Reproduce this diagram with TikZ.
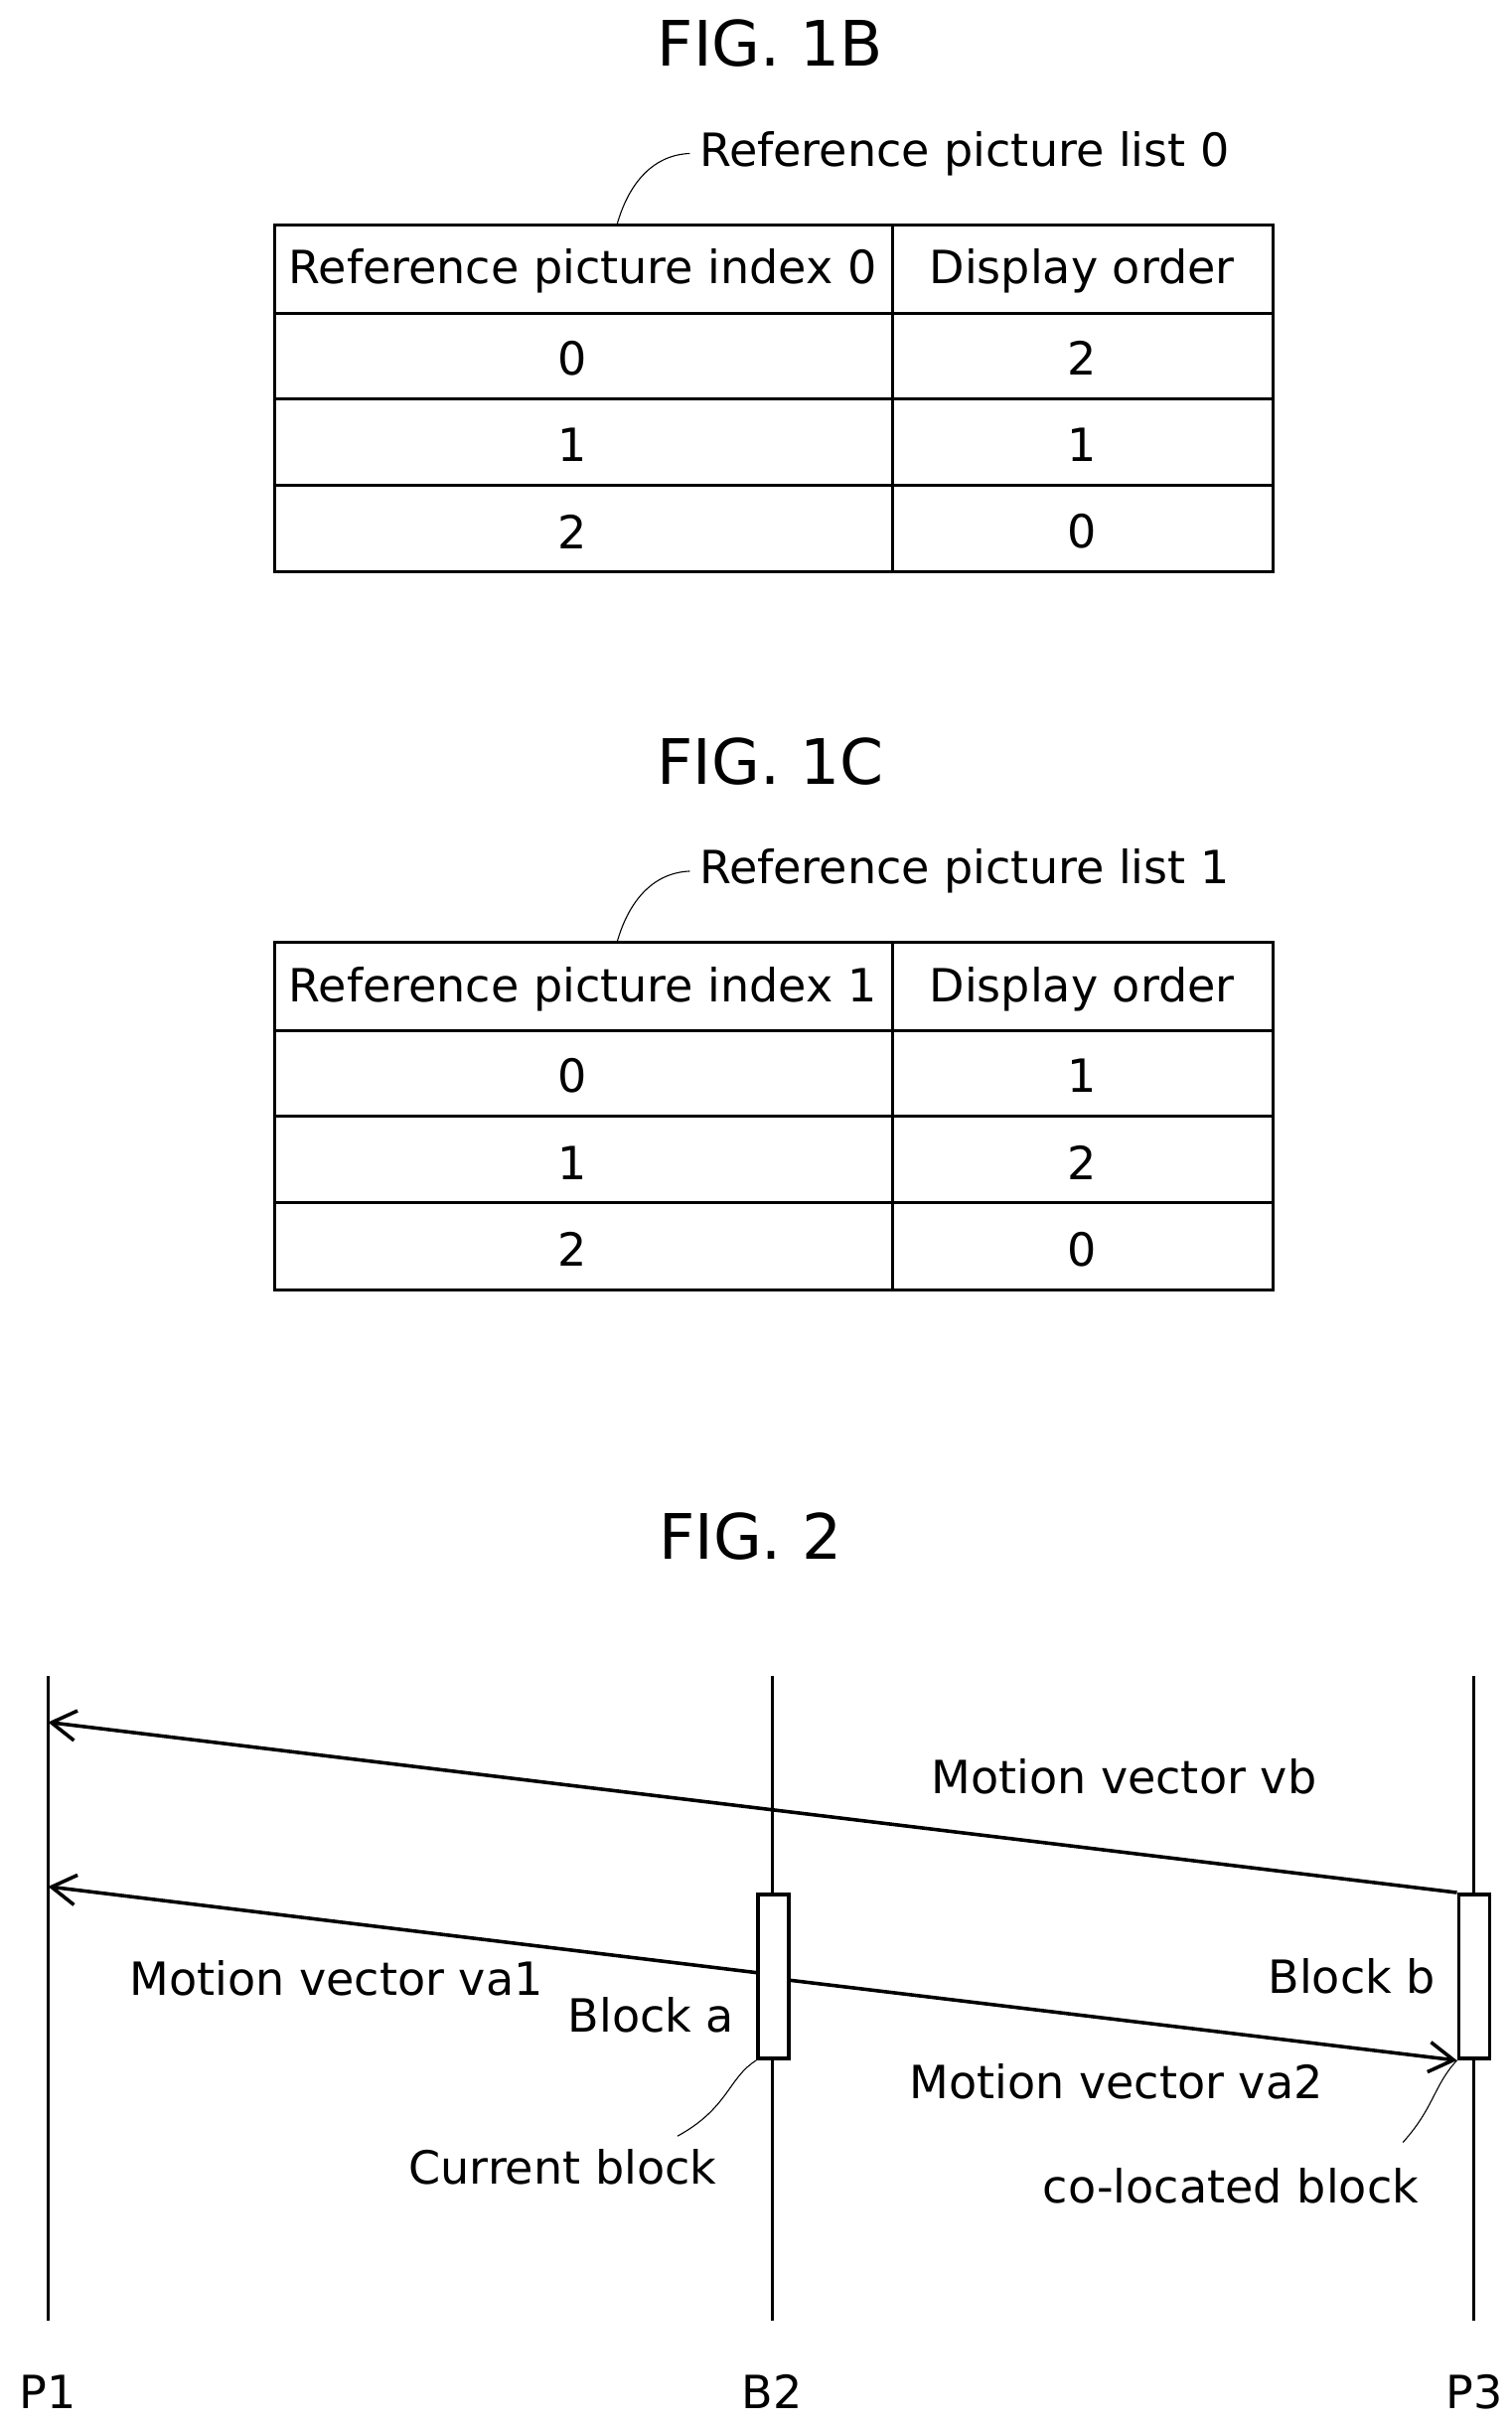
\documentclass[tikz,border=0pt]{standalone}
\usepackage{fontspec}
\setmainfont{DejaVu Sans}
\tikzset{>=latex}
\usetikzlibrary{positioning,arrows.meta}

\begin{document}
\begin{tikzpicture}[x=0.02cm, y=-0.02cm, font=\fontsize{16.8}{19}\selectfont,
    title/.style={font=\fontsize{23}{27}\selectfont},
    grid/.style={line width=1.1pt},
    vec/.style={->, line width=1.3pt, >={Straight Barb[length=9pt,width=11pt]}},
    blk/.style={draw, line width=1.3pt, minimum width=0.4cm, minimum height=2.12cm, inner sep=0pt, fill=white}]
  \useasboundingbox (0,0) rectangle (975,1565);
  % FIG. 1B
  \node[title] (t1b) at (497,28) {FIG. 1B};
  \draw[grid] (177,145) rectangle (821,369);
  \foreach \y in {202,257,313} \draw[grid] (177,\y) -- (821,\y);
  \draw[grid] (576,145) -- (576,369);
  \node (h1a) at (376,175) {Reference picture index 0};
  \node (h1b) at (698,175) {Display order};
  \foreach \i/\d [count=\r from 0] in {0/2,1/1,2/0} {
    \node at (369,231+\r*56) {\i};
    \node at (698,231+\r*56) {\d};
  }
  \node[anchor=west] (l0) at (445,99) {Reference picture list 0};
  \draw (398,145) .. controls (405,120) and (420,100) .. (l0.west);
  % FIG. 1C
  \node[title] (t1c) at (497,491) {FIG. 1C};
  \draw[grid] (177,608) rectangle (821,832);
  \foreach \y in {665,720,776} \draw[grid] (177,\y) -- (821,\y);
  \draw[grid] (576,608) -- (576,832);
  \node (h2a) at (376,638) {Reference picture index 1};
  \node (h2b) at (698,638) {Display order};
  \foreach \i/\d [count=\r from 0] in {0/1,1/2,2/0} {
    \node at (369,694+\r*56) {\i};
    \node at (698,694+\r*56) {\d};
  }
  \node[anchor=west] (l1) at (445,562) {Reference picture list 1};
  \draw (398,608) .. controls (405,583) and (420,563) .. (l1.west);
  % FIG. 2
  \node[title] (t2) at (484,991) {FIG. 2};
  \foreach \x/\n in {31/P1,498/B2,951/P3} {
    \draw[grid] (\x,1081) -- (\x,1497);
    \node (\n) at (\x,1543) {\n};
  }
  \coordinate (p1a) at (31,1111);
  \coordinate (p1b) at (31,1217);
  \node[blk] (ba) at (499,1275) {};
  \node[blk] (bb) at (951,1275) {};
  \draw[vec] (bb.north west) -- (p1a);
  \draw[vec] ([yshift=0.05cm]ba.west) -- (p1b);
  \draw[vec] ([yshift=-0.05cm]ba.east) -- (bb.south west);
  \node (mvb) at (725,1146) {Motion vector vb};
  \node (mva1) at (217,1276) {Motion vector va1};
  \node (mva2) at (720,1343) {Motion vector va2};
  \node (lba) at (420,1300) {Block a};
  \node (lbb) at (872,1275) {Block b};
  \node (cur) at (363,1398) {Current block};
  \node (col) at (794,1410) {co-located block};
  \draw (ba.south west) .. controls (470,1340) and (470,1360) .. (437,1378);
  \draw (bb.south west) .. controls (925,1345) and (925,1360) .. (905,1382);
\end{tikzpicture}
\end{document}
